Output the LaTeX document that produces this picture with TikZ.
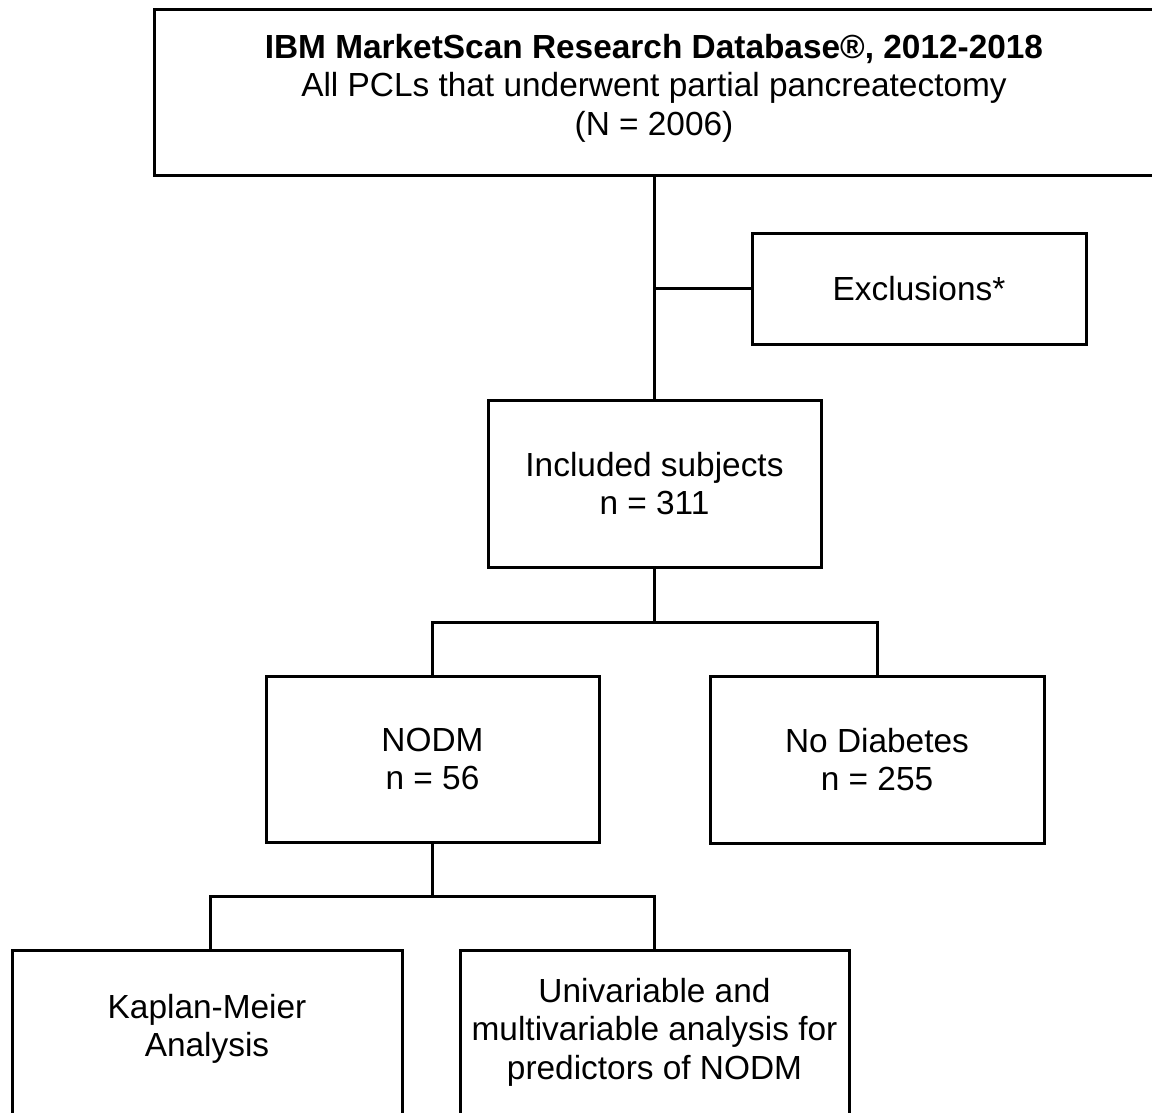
\documentclass[tikz,border=0pt]{standalone}
\usepackage{fontspec}
\setmainfont{Liberation Sans}
\usetikzlibrary{calc}
\tikzset{
  box/.style={draw=black, line width=1.5pt, rectangle, inner sep=0pt, align=center, font=\fontsize{16.7pt}{19.3pt}\selectfont},
  txt/.style={inner sep=0pt, align=center, font=\fontsize{16.7pt}{19.3pt}\selectfont},
  link/.style={draw=black, line width=1.5pt}
}
\begin{document}
\begin{tikzpicture}[x=0.5pt,y=-0.5pt]
\useasboundingbox (0,0) rectangle (1152,1113);
\clip (0,0) rectangle (1152,1113);
% boxes
\node[box, minimum width=501pt, minimum height=83pt] (top) at (655,93) {};
\node[txt] (toptxt) at (654,88) {\textbf{IBM MarketScan Research Database®, 2012-2018}\\All PCLs that underwent partial pancreatectomy\\(N = 2006)};
\node[box, minimum width=167pt, minimum height=55.5pt] (excl) at (919,288.5) {Exclusions*};
\node[box, minimum width=166.5pt, minimum height=83.5pt] (inc) at (654.5,483.5) {Included subjects\\n = 311};
\node[box, minimum width=166.5pt, minimum height=83pt] (nodm) at (432.5,759) {NODM\\n = 56};
\node[box, minimum width=167pt, minimum height=83.5pt] (nod) at (877,759.5) {No Diabetes\\n = 255};
\node[box, minimum width=195pt, minimum height=87.5pt] (km) at (207,1037.5) {};
\node[txt] (kmtxt) at (207,1029) {Kaplan-Meier\\Analysis};
\node[box, minimum width=194.5pt, minimum height=87.5pt] (uni) at (654.5,1037.5) {};
\node[txt] (unitxt) at (654.5,1032) {Univariable and\\multivariable analysis for\\predictors of NODM};
% connectors
\draw[link] (inc.north |- top.south) -- (inc.north);
\draw[link] (excl.west) -- (excl.west -| inc.north);
\coordinate (b1) at ($(inc.south)+(0,54)$);
\draw[link] (inc.south) -- (b1);
\draw[link] (nodm.north) |- (b1) -| (nod.north);
\coordinate (b2) at ($(nodm.south)+(0,53)$);
\draw[link] (nodm.south) -- (b2);
\coordinate (kmt) at (210,950);
\draw[link] (kmt) |- (b2) -| (uni.north);
\end{tikzpicture}
\end{document}
